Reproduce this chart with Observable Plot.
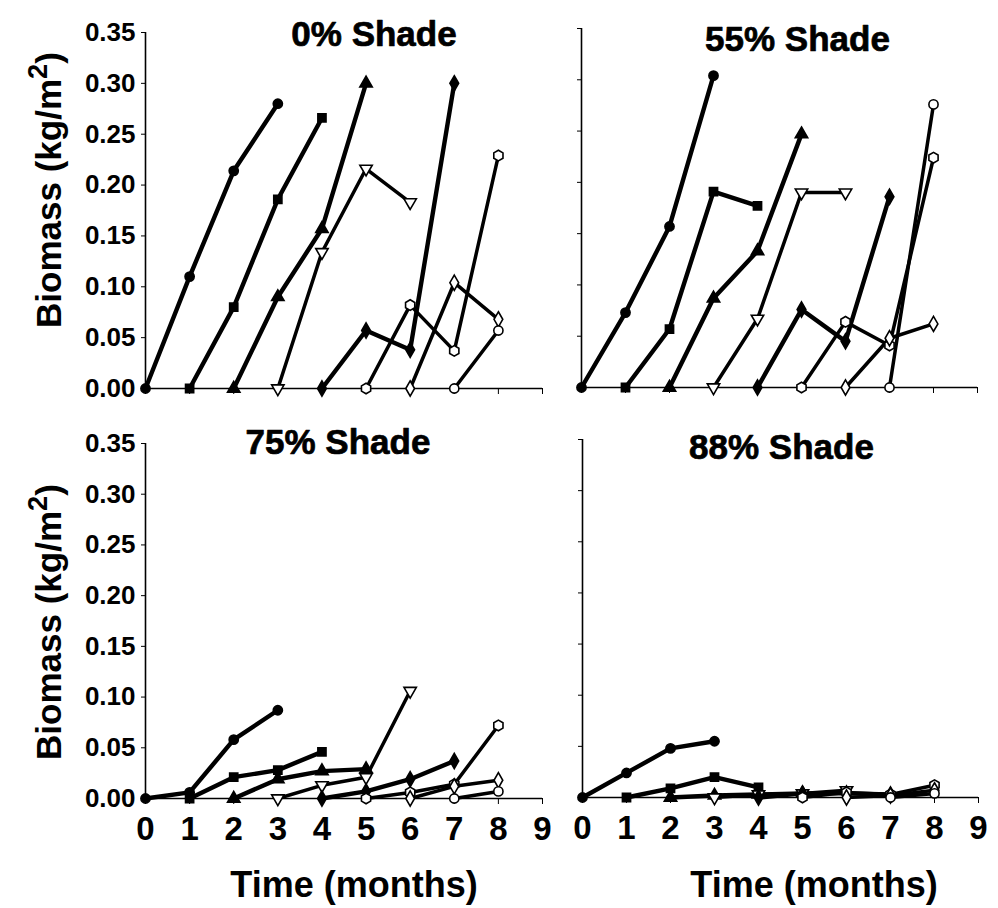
<!DOCTYPE html>
<html><head><meta charset="utf-8">
<script src="https://cdn.jsdelivr.net/npm/d3@7"></script>
<script src="https://cdn.jsdelivr.net/npm/@observablehq/plot@0.6"></script>
<style>
body{margin:0;background:#fff;}
#fig{position:relative;width:998px;height:908px;overflow:hidden;font-family:"Liberation Sans",Arial,sans-serif;color:#000;}
#fig svg{position:absolute;overflow:visible;}
.lab{position:absolute;font-weight:bold;white-space:nowrap;line-height:1;}
.ylab{transform:translate(-50%,-50%) rotate(-90deg);font-size:35px;}
.xlab{transform:translate(-50%,-50%);}
.ylab sup{font-size:0.78em;vertical-align:0.5em;line-height:0;}
</style></head><body><div id="fig"></div>
<script>
// ---- data ----
const months = [0,1,2,3,4,5,6,7,8,9];
const biomassTicks = [0,0.05,0.10,0.15,0.20,0.25,0.30,0.35];
const panelTitles = ["0% Shade","55% Shade","75% Shade","88% Shade"];
const seriesStart = [0,1,2,3,4,5,6,7];
const seriesSymbol = ["circle","square","triangle","triangle","diamond","hexagon","diamond","circle"];
const seriesRotate = [0,0,0,180,0,0,0,0];
const seriesFilled = [true,true,true,false,true,false,false,false];
const xAxisLabel = "Time (months)";
const yAxisLabel = "Biomass (kg/m";

const shade0 = [
 [0,0.110,0.214,0.280],
 [0,0.080,0.186,0.266],
 [0,0.090,0.157,0.300],
 [0,0.134,0.216,0.183],
 [0,0.057,0.038,0.300],
 [0,0.082,0.037,0.229],
 [0,0.104,0.068],
 [0,0.057]
];
const shade55 = [
 [0,0.073,0.157,0.304],
 [0,0.057,0.191,0.177],
 [0,0.087,0.133,0.247],
 [0,0.067,0.190,0.190],
 [0,0.076,0.045,0.186],
 [0,0.064,0.041,0.224],
 [0,0.048,0.062],
 [0,0.276]
];
const shade75 = [
 [0,0.006,0.058,0.087],
 [0,0.021,0.028,0.046],
 [0,0.019,0.027,0.029],
 [0,0.013,0.021,0.106],
 [0,0.007,0.019,0.037],
 [0,0.006,0.014,0.072],
 [0,0.012,0.018],
 [0,0.007]
];
const shade88 = [
 [0,0.024,0.048,0.055],
 [0,0.009,0.020,0.010],
 [0,0.002,0.003,0.004],
 [0,0.003,0.004,0.007],
 [0,0.004,0.004,0.003],
 [0,0.005,0.003,0.012],
 [0,0.002,0.007],
 [0,0.004]
];
const panelData = [shade0, shade55, shade75, shade88];

// ---- fonts: use a narrow bold face for tick labels when installed ----
function hasFont(name) {
  const c = document.createElement("canvas").getContext("2d");
  const s = "0.35 Time (months) mmmWW";
  c.font = "bold 72px monospace"; const a = c.measureText(s).width;
  c.font = `bold 72px "${name}", monospace`; const b = c.measureText(s).width;
  return Math.abs(a - b) > 0.5;
}
const narrow = hasFont("Liberation Sans Narrow");
const F = narrow
  ? {fam: "Liberation Sans Narrow", yTick: 31, xTick: 40, xLab: 43}
  : {fam: "Liberation Sans", yTick: 26, xTick: 33, xLab: 36};

// ---- layout ----
const layout = [
 {left:0,   top:0,   width:560, height:420, mL:145, mR:18, mT:32, mB:32,  yLab:true,  xLab:false, tdx:30, tdy:2},
 {left:560, top:0,   width:438, height:420, mL:21,  mR:21, mT:28, mB:33,  yLab:false, xLab:false, tdx:18, tdy:11},
 {left:0,   top:420, width:560, height:488, mL:145, mR:18, mT:23, mB:110, yLab:true,  xLab:true,  tdx:-6, tdy:-1},
 {left:560, top:420, width:438, height:488, mL:22,  mR:20, mT:19, mB:111, yLab:false, xLab:true,  tdx:1,  tdy:8}
];

const fig = document.getElementById("fig");

panelData.forEach((series, p) => {
  const L = layout[p];
  const rows = [];
  series.forEach((vals, s) => vals.forEach((v, i) => rows.push({series: s, month: seriesStart[s] + i, biomass: v})));
  const marks = [
    Plot.ruleX([0], {y1: 0, y2: 0.35, stroke: "black", strokeWidth: 1.6}),
    Plot.ruleY([0], {x1: 0, x2: 9, stroke: "black", strokeWidth: 1.6}),
    Plot.axisY({ticks: biomassTicks, tickSize: 4, tickPadding: 6, label: null,
      tickFormat: L.yLab ? d3.format(".2f") : () => "",
      fontSize: F.yTick, fontWeight: "bold", fontFamily: F.fam}),
    Plot.axisX({ticks: months, tickSize: 6, tickPadding: 12, label: null,
      tickFormat: L.xLab ? d => String(d) : () => "",
      fontSize: F.xTick, fontWeight: "bold", fontFamily: F.fam}),
  ];
  series.forEach((vals, s) => {
    marks.push(Plot.line(rows.filter(r => r.series === s), {
      x: "month", y: "biomass", stroke: "black",
      strokeWidth: seriesFilled[s] ? 4.4 : 3.5, strokeLinejoin: "round"}));
  });
  series.forEach((vals, s) => {
    marks.push(Plot.dot(rows.filter(r => r.series === s), {
      x: "month", y: "biomass", symbol: seriesSymbol[s], rotate: seriesRotate[s],
      r: 4.6, fill: seriesFilled[s] ? "black" : "white", stroke: "black", strokeWidth: 1.6}));
  });
  marks.push(Plot.text([panelTitles[p]], {text: d => d, frameAnchor: "top", lineAnchor: "middle",
    dx: L.tdx, dy: L.tdy, fontSize: 35, fontWeight: "bold", fill: "black", stroke: "black", strokeWidth: 0.7,
    fontFamily: "Liberation Sans, Arial, sans-serif"}));
  const svg = Plot.plot({
    width: L.width, height: L.height,
    marginLeft: L.mL, marginRight: L.mR, marginTop: L.mT, marginBottom: L.mB,
    x: {domain: [0, 9]},
    y: {domain: [0, 0.35]},
    style: {background: "transparent", fontFamily: "Liberation Sans, Arial, sans-serif", color: "black"},
    marks
  });
  svg.style.left = L.left + "px";
  svg.style.top = L.top + "px";
  fig.appendChild(svg);
});

// axis titles
function addLabel(cls, x, y, html, extra) {
  const d = document.createElement("div");
  d.className = "lab " + cls;
  d.style.left = x + "px"; d.style.top = y + "px";
  if (extra) Object.assign(d.style, extra);
  d.innerHTML = html;
  fig.appendChild(d);
}
const yl = yAxisLabel + "<sup>2</sup>)";
addLabel("ylab", 48, 190, yl);
addLabel("ylab", 48, 622, yl);
const xs = {fontFamily: `"${F.fam}", sans-serif`, fontSize: F.xLab + "px"};
addLabel("xlab", 354, 885, xAxisLabel, xs);
addLabel("xlab", 814, 885, xAxisLabel, xs);
</script></body></html>
